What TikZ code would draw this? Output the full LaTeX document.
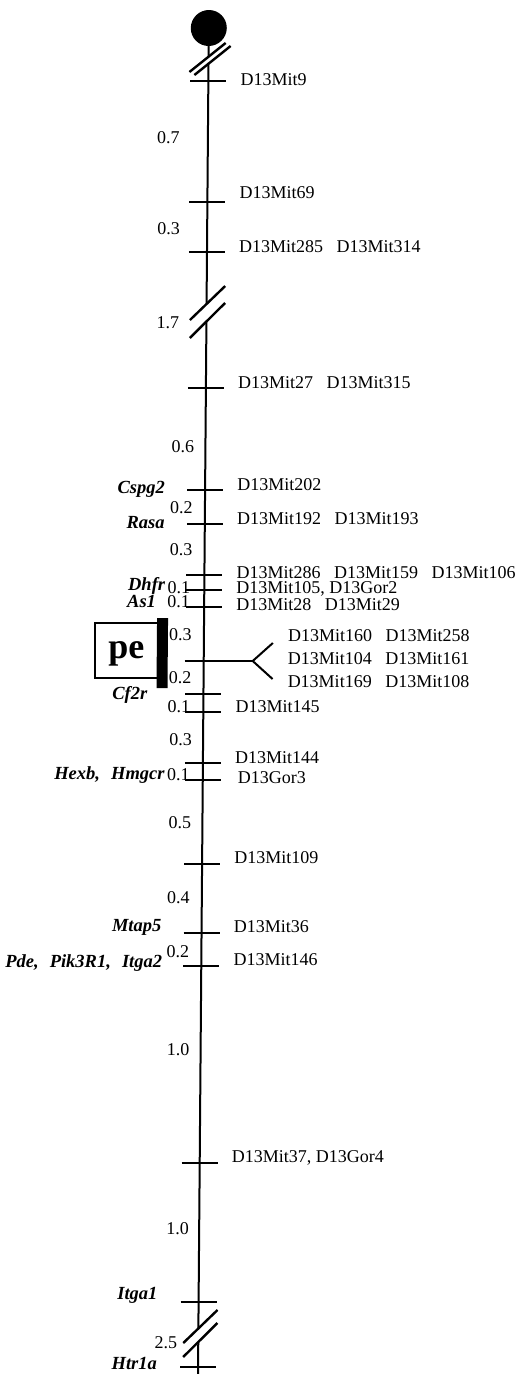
\documentclass[tikz,border=0pt]{standalone}
\usepackage{fontspec}
\setmainfont{Liberation Serif}

\begin{document}
\begin{tikzpicture}[x=1pt,y=-1pt,
  chrom/.style={line width=2pt},
  locus/.style={line width=2pt},
  brk/.style={line width=2.4pt},
  mk/.style={anchor=west,inner sep=0pt,font=\fontsize{18}{18}\selectfont},
  dist/.style={anchor=east,inner sep=0pt,font=\fontsize{18}{18}\selectfont},
  gene/.style={anchor=east,inner sep=0pt,font=\fontsize{18.5}{18.5}\selectfont\bfseries\itshape}]
\useasboundingbox (0,0) rectangle (520,1374);
\begin{scope}[xslant=.008]
% centromere and chromosome axis
\fill (209,28) circle[radius=18];
\draw[chrom] (209,28) -- (209,57);
\draw[chrom] (209,63) -- (209,304);
\draw[chrom] (209,322) -- (209,1328);
\draw[chrom] (209,1342) -- (209,1374);
% breaks
\draw[brk] (190,72) -- (226,43);
\draw[brk] (195,75) -- (231,46);
\draw[brk] (192.5,320) -- (227.5,286);
\draw[brk] (192.5,338) -- (227.5,303);
\draw[brk] (194,1343) -- (228,1310);
\draw[brk] (194,1357) -- (228,1323);
% loci
\draw[locus] (191,81) -- (227,81);
\node[mk] (m9) at (241,80) {D13Mit9};
\node[dist] (d1) at (181,138) {0.7};
\draw[locus] (191,202) -- (227,202);
\node[mk] (m69) at (241,193) {D13Mit69};
\node[dist] (d2) at (182,229) {0.3};
\draw[locus] (191,252) -- (227,252);
\node[mk] (m285) at (241,247) {D13Mit285\hspace{.75em}D13Mit314};
\node[dist] (d3) at (182,323) {1.7};
\draw[locus] (191,388) -- (227,388);
\node[mk] (m27) at (241,383) {D13Mit27\hspace{.75em}D13Mit315};
\node[dist] (d4) at (198,447) {0.6};
\draw[locus] (191,490) -- (227,490);
\node[mk] (m202) at (241,485) {D13Mit202};
\node[gene] (cspg) at (169,489) {Cspg2};
\node[dist] (d5) at (197,508) {0.2};
\draw[locus] (191,524) -- (227,524);
\node[mk] (m192) at (241,519) {D13Mit192\hspace{.75em}D13Mit193};
\node[gene] (rasa) at (169,523) {Rasa};
\node[dist] (d6) at (197,550) {0.3};
\draw[locus] (191,575) -- (227,575);
\node[mk] (m286) at (241,573) {D13Mit286\hspace{.75em}D13Mit159\hspace{.75em}D13Mit106};
\draw[locus] (191,590) -- (227,590);
\node[mk] (m105) at (241,589) {D13Mit105, D13Gor2};
\node[gene] (dhfr) at (170,586) {Dhfr};
\node[dist] (d7) at (195,588) {0.1};
\draw[locus] (191,607) -- (227,607);
\node[mk] (m28) at (241,605) {D13Mit28\hspace{.75em}D13Mit29};
\node[gene] (asl) at (161,601) {As1};
\node[dist] (d8) at (195,602) {0.1};
% pe region
\node[draw,line width=2pt,minimum width=63pt,minimum height=55pt,inner sep=0pt,
  text depth=0pt,font=\fontsize{36}{36}\selectfont\bfseries] (pe) at (131.5,650.5) {pe};
\fill (162,618) rectangle (173,688);
\node[dist] (d9) at (197,635) {0.3};
\coordinate (fork) at (258,661);
\draw[locus] (190,661) -- (fork);
\draw[locus] (278,643) -- (fork) -- (278,679);
\node[mk] (m160) at (293,636) {D13Mit160\hspace{.75em}D13Mit258};
\node[mk] (m104) at (293,659) {D13Mit104\hspace{.75em}D13Mit161};
\node[mk] (m169) at (293,682) {D13Mit169\hspace{.75em}D13Mit108};
\node[dist] (d10) at (197,678) {0.2};
\draw[locus] (191,694) -- (227,694);
\node[gene] (cftr) at (153,695) {Cf2r};
\node[dist] (d11) at (196,707) {0.1};
\draw[locus] (191,712) -- (227,712);
\node[mk] (m145) at (241,707) {D13Mit145};
\node[dist] (d12) at (198,740) {0.3};
\draw[locus] (191,763) -- (227,763);
\node[mk] (m144) at (241,758) {D13Mit144};
\draw[locus] (191,780) -- (227,780);
\node[mk] (gor3) at (244,778) {D13Gor3};
\node[gene] (hexb) at (171,775) {Hexb,\hspace{.6em}Hmgcr};
\node[dist] (d13) at (196,775) {0.1};
\node[dist] (d14) at (198,823) {0.5};
\draw[locus] (191,864) -- (227,864);
\node[mk] (m109) at (241,858) {D13Mit109};
\node[dist] (d15) at (197,898) {0.4};
\draw[locus] (191,933) -- (227,933);
\node[mk] (m36) at (241,927) {D13Mit36};
\node[gene] (mtap) at (169,927) {Mtap5};
\node[dist] (d16) at (197,952) {0.2};
\draw[locus] (191,966) -- (227,966);
\node[mk] (m146) at (241,960) {D13Mit146};
\node[gene] (pde) at (170,963) {Pde,\hspace{.6em}Pik3R1,\hspace{.6em}Itga2};
\node[dist] (d17) at (198,1050) {1.0};
\draw[locus] (191,1163) -- (227,1163);
\node[mk] (m37) at (241,1158) {D13Mit37, D13Gor4};
\node[dist] (d18) at (199,1229) {1.0};
\draw[locus] (191,1302) -- (227,1302);
\node[gene] (itga) at (168,1295) {Itga1};
\node[dist] (d19) at (188,1343) {2.5};
\draw[locus] (191,1367) -- (227,1367);
\node[gene] (htr) at (168,1363) {Htr1a};
\end{scope}
\end{tikzpicture}
\end{document}
